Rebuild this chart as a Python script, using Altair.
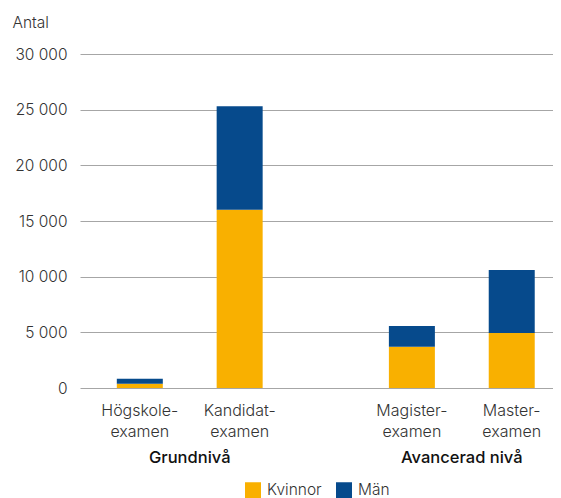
import altair as alt
import pandas as pd

# --- data ---
categories = ["Högskole-\nexamen", "Kandidat-\nexamen", "Magister-\nexamen", "Master-\nexamen"]
groups = ["Grundnivå", "Grundnivå", "Avancerad nivå", "Avancerad nivå"]
group_names = ["Grundnivå", "Avancerad nivå"]
kvinnor = [390, 16000, 3700, 4950]
man = [440, 9300, 1860, 5650]
series = ["Kvinnor", "Män"]
colors = ["#F9B000", "#064A8C"]
y_ticks = [0, 5000, 10000, 15000, 20000, 25000, 30000]

# layout helpers (slot positions within groups, with a wider gap between groups)
GROUP_GAP = 1.725
pos = []
slot = {}
for c, g in zip(categories, groups):
    gi = group_names.index(g)
    k = slot.get(g, 0)
    slot[g] = k + 1
    pos.append(k + gi * (1 + GROUP_GAP))
# positions: 0, 1, 2.725, 3.725

rows = []
for c, p, k, m in zip(categories, pos, kvinnor, man):
    rows.append({"cat": c, "pos": p, "serie": "Kvinnor", "val": k, "ord": 0})
    rows.append({"cat": c, "pos": p, "serie": "Män", "val": m, "ord": 1})
df = pd.DataFrame(rows)

cat_df = pd.DataFrame({"cat": categories, "pos": pos})
grp_df = pd.DataFrame({
    "grp": group_names,
    "pos": [sum(p for p, g in zip(pos, groups) if g == n) / groups.count(n) for n in group_names],
})

W = 473
H = 334
x0 = -0.549
x_scale = alt.Scale(domain=[x0, x0 + W / 102.0], nice=False, zero=False)

FONT = "Inter"

bars = alt.Chart(df).mark_bar(size=46).encode(
    x=alt.X("pos:Q", scale=x_scale, axis=None),
    y=alt.Y(
        "val:Q",
        stack="zero",
        scale=alt.Scale(domain=[0, 30000], nice=False),
        axis=alt.Axis(
            values=y_ticks,
            domain=False,
            ticks=False,
            grid=True,
            gridColor="#a6a6a6",
            gridWidth=1,
            labelFontSize=15.5,
            labelFont=FONT,
            labelFontWeight=300,
            labelColor="#333333",
            labelPadding=13,
            labelExpr="replace(format(datum.value, ','), ',', ' ')",
            title="Antal",
            titleAngle=0,
            titleAlign="left",
            titleBaseline="alphabetic",
            titleX=-68,
            titleY=-27,
            titleFont=FONT,
            titleFontSize=15.5,
            titleFontWeight=300,
            titleColor="#333333",
        ),
    ),
    color=alt.Color(
        "serie:N",
        scale=alt.Scale(domain=series, range=colors),
        legend=alt.Legend(
            title=None,
            orient="none",
            direction="horizontal",
            legendX=165,
            legendY=428,
            symbolType="square",
            symbolSize=256,
            symbolStrokeWidth=0,
            labelFontSize=15.5,
            labelFont=FONT,
            labelFontWeight=300,
            labelColor="#333333",
            labelOffset=6,
            columnPadding=14,
        ),
    ),
    order=alt.Order("ord:Q", sort="ascending"),
)

cat_text = alt.Chart(cat_df).mark_text(
    lineBreak="\n", lineHeight=21, fontSize=16, font=FONT, fontWeight=300,
    color="#333333", baseline="alphabetic", align="center",
).encode(
    x=alt.X("pos:Q", scale=x_scale, axis=None),
    y=alt.value(362),
    text="cat:N",
)

grp_text = alt.Chart(grp_df).mark_text(
    fontSize=16.5, font=FONT, fontWeight=500, color="#111111",
    baseline="alphabetic", align="center",
).encode(
    x=alt.X("pos:Q", scale=x_scale, axis=None),
    y=alt.value(409),
    text="grp:N",
)

chart = alt.layer(bars, cat_text, grp_text).properties(
    width=W,
    height=H,
    autosize=alt.AutoSizeParams(type="none"),
    padding={"left": 72, "top": 46, "right": 0, "bottom": 110},
).configure_view(stroke=None)

chart.save("out.html", embed_options={"renderer": "svg", "actions": False})
